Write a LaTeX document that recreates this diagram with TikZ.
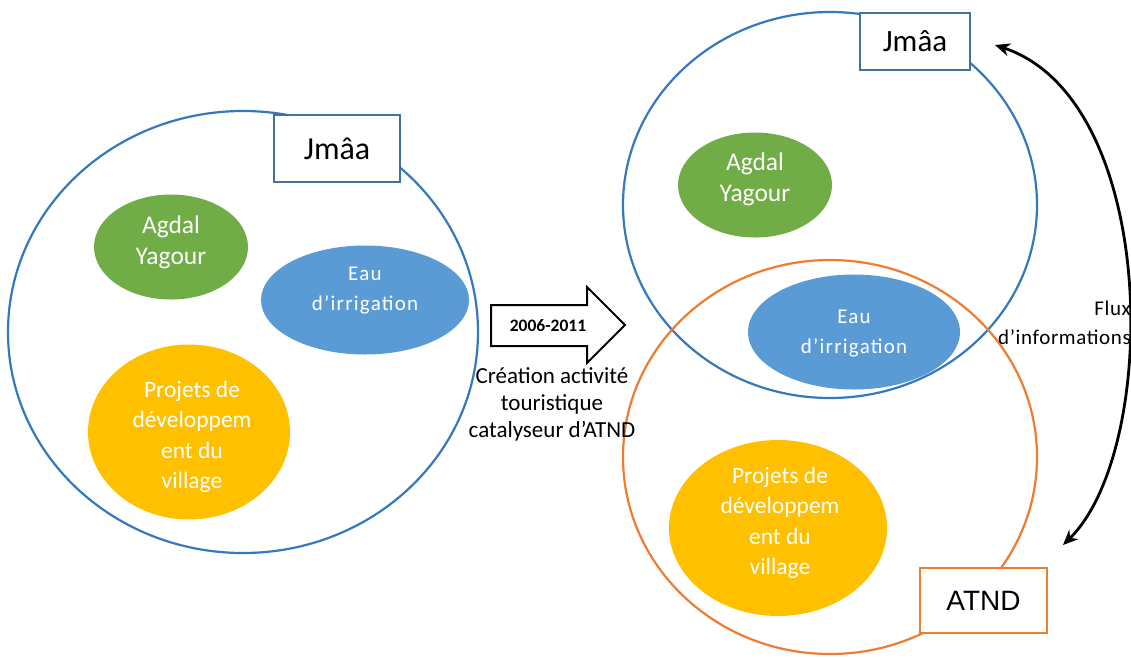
\documentclass[tikz,border=0pt]{standalone}
\usepackage{fontspec}
\setmainfont{Carlito}
\newfontfamily\arialfont{Liberation Sans}
\usetikzlibrary{shapes.geometric,arrows.meta}
\definecolor{ringblue}{RGB}{52,120,190}
\definecolor{boxblue}{RGB}{65,113,156}
\definecolor{ringorange}{RGB}{237,125,49}
\definecolor{agdalgreen}{RGB}{112,173,71}
\definecolor{eaublue}{RGB}{91,155,213}
\definecolor{projyellow}{RGB}{255,192,0}
\tikzset{
  ring/.style={draw, line width=2.2pt, ellipse, inner sep=0pt},
  blob/.style={ellipse, inner sep=0pt, draw=none},
  blobtext/.style={text=white, align=center, inner sep=0pt, font=\fontsize{25.5}{31}\selectfont},
  projtext/.style={text=white, align=center, inner sep=0pt, font=\fontsize{23.5}{30.5}\selectfont},
  eautext/.style={text=white, align=center, inner sep=0pt, font=\fontsize{21}{30}\selectfont\addfontfeature{LetterSpace=6}},
  titlebox/.style={draw, fill=white, line width=2.6pt, inner sep=0pt},
  plaintext/.style={align=center, inner sep=0pt, text=black}
}
\begin{document}
\begin{tikzpicture}[x=1pt, y=-1pt]
\useasboundingbox (0,0) rectangle (1131,657);

% big rings
\node[ring, draw=ringblue, minimum width=470pt, minimum height=442pt] (leftring) at (243,332) {};
\node[ring, draw=ringblue, minimum width=414pt, minimum height=386pt] (topring) at (830,205) {};
\node[ring, draw=ringorange, minimum width=414pt, minimum height=394pt] (botring) at (830,457) {};

% left contents
\node[blob, fill=agdalgreen, minimum width=154pt, minimum height=105pt] (lagdal) at (171,247) {};
\node[blobtext] (lagdalt) at (171,242) {Agdal\\Yagour};
\node[blob, fill=eaublue, minimum width=208pt, minimum height=109pt] (leau) at (365,300) {};
\node[eautext] (leaut) at (365,291) {Eau\\d’irrigation};
\node[blob, fill=projyellow, minimum width=202pt, minimum height=175pt] (lproj) at (189,432) {};
\node[projtext] (lprojt) at (192,437) {Projets de\\développem\\ent du\\village};

% right contents
\node[blob, fill=agdalgreen, minimum width=154pt, minimum height=105pt] (ragdal) at (755,185) {};
\node[blobtext] (ragdalt) at (755,179) {Agdal\\Yagour};
\node[blob, fill=eaublue, minimum width=212pt, minimum height=115pt] (reau) at (854,332) {};
\node[eautext] (reaut) at (854,334) {Eau\\d’irrigation};
\node[blob, fill=projyellow, minimum width=218pt, minimum height=176pt] (rproj) at (778,528) {};
\node[projtext] (rprojt) at (780,523) {Projets de\\développem\\ent du\\village};

% title boxes
\node[titlebox, draw=boxblue, minimum width=126pt, minimum height=67pt, font=\fontsize{32}{36}\selectfont] (ljmaa) at (337,148.5) {Jmâa};
\node[titlebox, draw=boxblue, minimum width=110pt, minimum height=57pt, font=\fontsize{31}{36}\selectfont] (rjmaa) at (915,41.5) {Jmâa};
\node[titlebox, draw=ringorange, minimum width=127pt, minimum height=65pt, font=\arialfont\fontsize{28}{32}\selectfont] (atnd) at (983.5,600.5) {ATND};

% block arrow
\draw[line width=2pt, fill=white, line join=miter]
  (491,305) -- (587,305) -- (587,287) -- (625,325) -- (587,363) -- (587,346) -- (491,346) -- cycle;
\node[plaintext, font=\bfseries\fontsize{17.5}{20}\selectfont] (period) at (548,326) {2006-2011};
\node[plaintext, font=\fontsize{23}{27}\selectfont, anchor=north] (creation) at (552,367) {Création activité\\touristique\\catalyseur d’ATND};

% information flow arrow
\coordinate (ftop) at (995,45);
\coordinate (fbot) at (1063,545);
\draw[line width=2.8pt, {Stealth[length=15pt,width=13pt]}-{Stealth[length=15pt,width=13pt]}]
  (ftop) .. controls (1160,100) and (1160,450) .. (fbot);
\node[plaintext, align=right, anchor=east, font=\fontsize{21}{29}\selectfont\addfontfeature{LetterSpace=3}] (flux) at (1131,323) {Flux\\d’informations};
\end{tikzpicture}
\end{document}
